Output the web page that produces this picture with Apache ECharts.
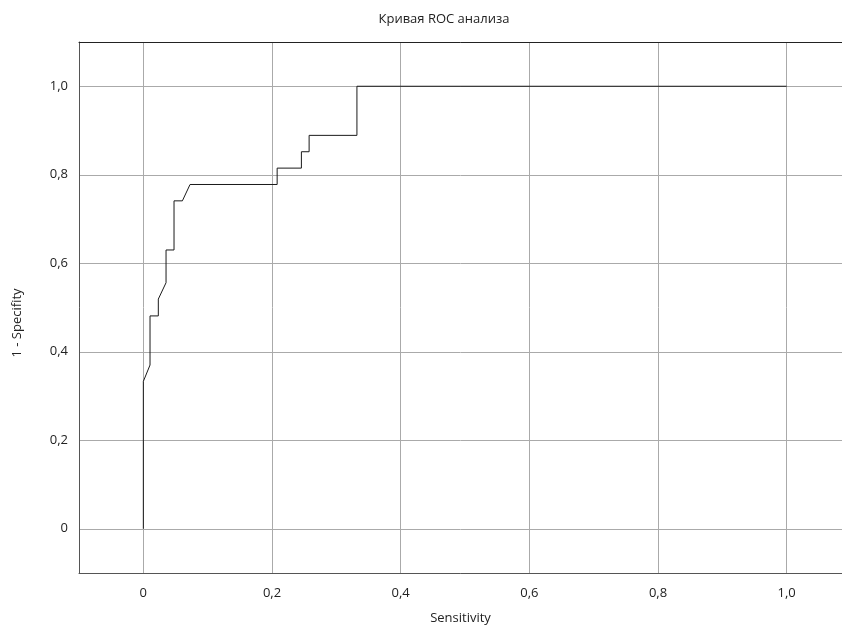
<!DOCTYPE html>
<html>
<head>
<meta charset="utf-8">
<script src="https://cdn.jsdelivr.net/npm/echarts@6/dist/echarts.min.js"></script>
<style>
  html, body { margin: 0; padding: 0; background: #fff; }
  #roc { width: 842px; height: 626px; }
</style>
</head>
<body>
<div id="roc"></div>
<script>
// ROC curve points: [sensitivity, 1 - specifity]
var rocX = [0, 0, 0.0104, 0.0104, 0.0233, 0.0233, 0.0353, 0.0353, 0.0477, 0.0477, 0.0607, 0.0726, 0.208, 0.208, 0.2457, 0.2457, 0.2577, 0.2577, 0.332, 0.332, 1.0];
var rocY = [0, 0.333, 0.370, 0.481, 0.481, 0.519, 0.556, 0.630, 0.630, 0.741, 0.741, 0.778, 0.778, 0.815, 0.815, 0.852, 0.852, 0.889, 0.889, 1.0, 1.0];

var chartTitle = 'Кривая ROC анализа';
var xName = 'Sensitivity';
var yName = '1 - Specifity';

var points = rocX.map(function (x, i) { return [x, rocY[i]]; });

function fmt(v) {
    if (Math.abs(v) < 1e-9) return '0';
    return v.toFixed(1).replace('.', ',');
}

var rocChart = echarts.init(document.getElementById('roc'));
var labelFont = { fontFamily: 'Open Sans', fontSize: 13, color: '#222' };

// plot runs past the right edge of the picture (x max ~1.086 at 842px)
var option = {
    animation: false,
    title: {
        text: chartTitle,
        left: 439,
        top: 8,
        textAlign: 'center',
        textStyle: { fontFamily: 'Open Sans', fontSize: 13, fontWeight: 'normal', color: '#222' }
    },
    graphic: [
        {
            type: 'text',
            x: 17, y: 323,
            rotation: Math.PI / 2,
            style: {
                text: yName,
                fontFamily: 'Open Sans', fontSize: 13, fill: '#222',
                align: 'center', verticalAlign: 'middle'
            }
        }
    ],
    grid: {
        left: 79, right: 0, top: 42, bottom: 53,
        outerBoundsMode: 'none',
        show: false
    },
    xAxis: [
        {
            type: 'value',
            min: -0.1, max: 1.086,
            splitNumber: 6,
            name: xName,
            nameLocation: 'middle',
            nameGap: 39,
            nameTextStyle: labelFont,
            axisLine: { show: true, onZero: false, lineStyle: { color: '#555' } },
            axisTick: { show: false },
            axisLabel: Object.assign({ showMinLabel: false, showMaxLabel: false, margin: 14, formatter: fmt }, labelFont),
            splitLine: { show: true, lineStyle: { color: '#aaa', width: 1 } }
        },
        {
            type: 'value',
            position: 'top',
            min: -0.1, max: 1.086,
            axisLine: { show: true, onZero: false, lineStyle: { color: '#222' } },
            axisTick: { show: false },
            axisLabel: { show: false },
            splitLine: { show: false }
        }
    ],
    yAxis: {
        type: 'value',
        min: -0.1, max: 1.1,
        splitNumber: 6,
        axisLine: { show: true, onZero: false, lineStyle: { color: '#555' } },
        axisTick: { show: false },
        axisLabel: Object.assign({ showMinLabel: false, showMaxLabel: false, margin: 11, formatter: fmt }, labelFont),
        splitLine: { show: true, lineStyle: { color: '#aaa', width: 1 } }
    },
    series: [
        {
            name: 'ROC',
            type: 'line',
            data: points,
            symbol: 'none',
            lineStyle: { color: '#1a1a1a', width: 1 }
        }
    ]
};

rocChart.setOption(option);
</script>
</body>
</html>
